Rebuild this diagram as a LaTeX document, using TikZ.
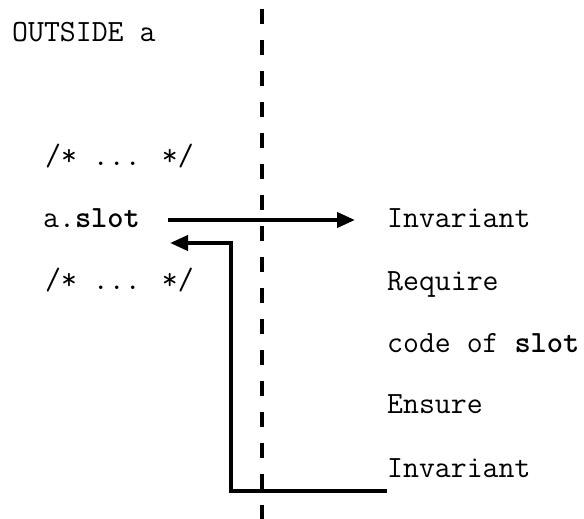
\documentclass[tikz,border=0pt]{standalone}
\usepackage{fontspec}
\usetikzlibrary{arrows.meta}
\tikzset{
  txt/.style={anchor=base west, inner sep=0pt, font=\ttfamily\fontsize{30.9}{36}\selectfont},
  arr/.style={line width=4pt, -{Triangle[length=18pt,width=15pt]}, line join=miter},
  divider/.style={line width=4pt, dash pattern=on 15pt off 16pt}
}
\begin{document}
\begin{tikzpicture}[x=1pt,y=-1pt]
\useasboundingbox (0,0) rectangle (584,519);
\coordinate (dtop) at (262,9);
\coordinate (dbot) at (262,519);
\draw[divider] (dtop) -- (dbot);
\node[txt] (outside) at (12,42) {OUTSIDE a};
\node[txt] (c1) at (45,165) {/* ... */};
\node[txt] (slot) at (43,227) {a.\textbf{slot}};
\node[txt] (c2) at (45,289) {/* ... */};
\node[txt] (inv1) at (387,227) {Invariant};
\node[txt] (req) at (387,290) {Require};
\node[txt] (code) at (387,352) {code of \textbf{slot}};
\node[txt] (ens) at (387,413) {Ensure};
\node[txt] (inv2) at (387,477) {Invariant};
\coordinate (a1) at (168,220);
\coordinate (a2) at (355,220);
\draw[arr] (a1) -- (a2);
\coordinate (r0) at (387,491);
\coordinate (r1) at (231,491);
\coordinate (r2) at (231,243);
\coordinate (r3) at (170,243);
\draw[arr] (r0) -- (r1) -- (r2) -- (r3);
\end{tikzpicture}
\end{document}
